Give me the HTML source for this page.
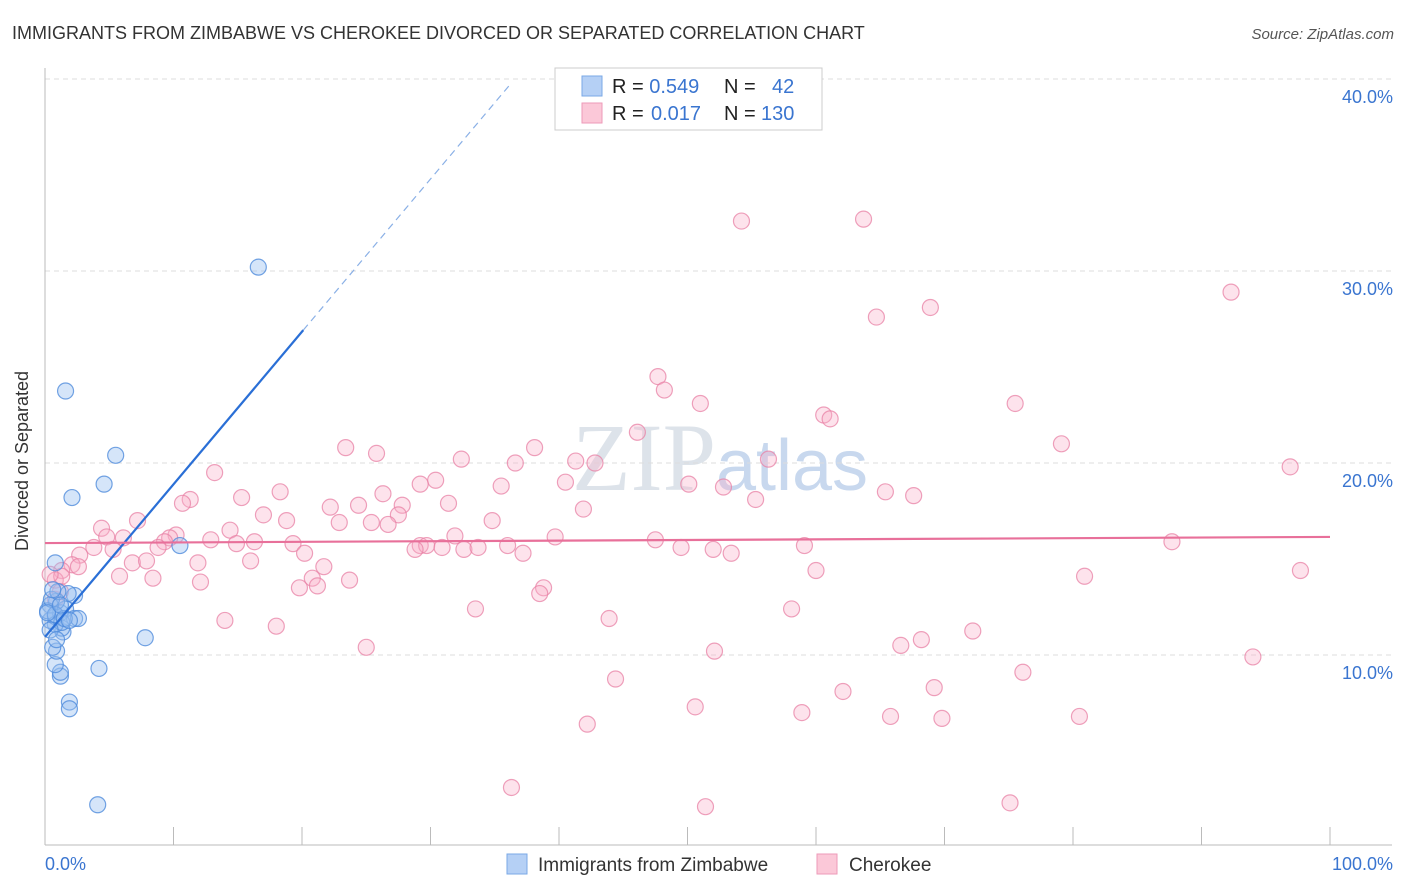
<!DOCTYPE html>
<html><head><meta charset="utf-8"><style>
body{margin:0;background:#fff;font-family:"Liberation Sans",sans-serif}
</style></head><body>
<svg id="c" width="1406" height="892" xmlns="http://www.w3.org/2000/svg" style="display:block">
<text x="12" y="39" font-size="18" fill="#333">IMMIGRANTS FROM ZIMBABWE VS CHEROKEE DIVORCED OR SEPARATED CORRELATION CHART</text>
<text x="1394" y="39" font-size="15" fill="#555" font-style="italic" text-anchor="end">Source: ZipAtlas.com</text>
<text x="720" y="490" font-size="96" fill="#dde3ea" text-anchor="middle" font-family="Liberation Serif,serif">ZIP<tspan fill="#c8d8ee" font-family="Liberation Sans,sans-serif" font-size="72">atlas</tspan></text>
<g id="grid"></g>
<line x1="45" y1="68" x2="45" y2="845" stroke="#bbb"/>
<line x1="45" y1="845" x2="1392" y2="845" stroke="#bbb"/>
<text x="22" y="455" font-size="18" fill="#333" text-anchor="middle" transform="rotate(-90 28 455)">Divorced or Separated</text>
<text x="45" y="870" font-size="18" fill="#3a75d0">0.0%</text>
<text x="1393" y="870" font-size="18" fill="#3a75d0" text-anchor="end">100.0%</text>
<g id="pts"></g>
<g id="lines"></g>
<g>
<rect x="555" y="68" width="267" height="62" fill="#fff" stroke="#ccc"/>
<rect x="582" y="76" width="20" height="20" fill="#b5d0f5" stroke="#7aa8e6"/>
<rect x="582" y="103" width="20" height="20" fill="#fbc8d8" stroke="#ee9ab8"/>
<text x="612" y="93" font-size="20" fill="#222">R = <tspan fill="#3a75d0">0.549</tspan><tspan x="724">N =</tspan><tspan x="772" fill="#3a75d0">42</tspan></text>
<text x="612" y="120" font-size="20" fill="#222">R = <tspan x="651" fill="#3a75d0">0.017</tspan><tspan x="724">N =</tspan><tspan x="761" fill="#3a75d0">130</tspan></text>
</g>
<g>
<rect x="507" y="854" width="20" height="20" fill="#b5d0f5" stroke="#7aa8e6"/>
<text x="538" y="871" font-size="19" fill="#333">Immigrants from Zimbabwe</text>
<rect x="817" y="854" width="20" height="20" fill="#fbc8d8" stroke="#ee9ab8"/>
<text x="849" y="871" font-size="19" fill="#333">Cherokee</text>
</g>
</svg>
<script>
const yTicks=[10,20,30,40];
const xTickVals=[0,10,20,30,40,50,60,70,80,90,100];
const blueX=[16.6,1.6,5.5,2.1,4.6,10.5,0.8,7.8,4.2,4.1,1.9,1.9,1.2,1.2,0.8,0.9,0.6,1.4,1.3,0.8,0.4,0.8,1.2,1.6,2.3,2.6,2.3,1.8,0.9,0.4,0.2,0.5,1.0,1.3,0.8,0.4,0.9,1.5,0.2,0.6,1.2,1.9];
const blueY=[30.2,23.75,20.4,18.2,18.9,15.7,14.8,10.9,9.3,2.2,7.55,7.2,8.9,9.1,9.5,10.2,10.4,11.2,11.4,11.6,11.8,12.0,12.2,12.4,11.9,11.9,13.1,13.2,12.8,12.6,12.3,12.9,13.3,11.7,12.1,11.3,10.8,11.9,12.2,13.4,12.6,11.8];
const pinkX=[54.2,63.7,92.3,64.7,68.9,47.7,48.2,51.0,60.6,61.1,75.5,46.1,79.1,23.4,25.8,38.1,32.4,36.6,41.3,42.8,56.3,96.9,13.2,30.4,29.2,40.5,35.5,50.1,52.8,55.3,65.4,67.6,18.3,26.3,15.3,11.3,10.7,31.4,22.2,24.4,27.8,41.9,17.0,27.5,18.8,34.8,22.9,25.4,26.7,7.2,4.4,14.4,10.2,31.9,39.7,47.5,4.8,6.1,9.7,9.3,12.9,14.9,16.3,19.3,29.2,29.7,28.8,30.9,32.6,33.7,36.0,37.2,49.5,52.0,53.4,59.1,87.7,3.8,2.7,5.3,8.8,20.2,16.0,6.8,7.9,11.9,2.1,2.6,1.3,0.8,5.8,8.4,12.1,20.8,21.2,21.7,23.7,19.8,38.8,38.5,60.0,80.9,97.7,33.5,58.1,14.0,18.0,43.9,72.2,68.2,66.6,25.0,52.1,94.0,76.1,44.4,69.2,62.1,50.6,58.9,65.8,69.8,80.5,42.2,36.3,51.4,75.1,0.8,1.2,1.3,0.4];
const pinkY=[32.6,32.7,28.9,27.6,28.1,24.5,23.8,23.1,22.5,22.3,23.1,21.6,21.0,20.8,20.5,20.8,20.2,20.0,20.1,20.0,20.2,19.8,19.5,19.1,18.9,19.0,18.8,18.9,18.75,18.1,18.5,18.3,18.5,18.4,18.2,18.1,17.9,17.9,17.7,17.8,17.8,17.6,17.3,17.3,17.0,17.0,16.9,16.9,16.8,17.0,16.6,16.5,16.25,16.2,16.15,16.0,16.15,16.1,16.1,15.9,16.0,15.8,15.9,15.8,15.7,15.7,15.5,15.6,15.5,15.6,15.7,15.3,15.6,15.5,15.3,15.7,15.9,15.6,15.2,15.5,15.6,15.3,14.9,14.8,14.9,14.8,14.7,14.6,14.4,13.9,14.1,14.0,13.8,14.0,13.6,14.6,13.9,13.5,13.5,13.2,14.4,14.1,14.4,12.4,12.4,11.8,11.5,11.9,11.25,10.8,10.5,10.4,10.2,9.9,9.1,8.75,8.3,8.1,7.3,7.0,6.8,6.7,6.8,6.4,3.1,2.1,2.3,12.9,13.3,14.1,14.2];
const blueFit=[10.94,0.795];
const pinkFit=[15.83,0.0032];
const NS="http://www.w3.org/2000/svg";
const sx=v=>45+v*12.85, sy=v=>847-v*19.2;
function mk(t,a,p){const e=document.createElementNS(NS,t);for(const k in a)e.setAttribute(k,a[k]);p.appendChild(e);return e;}
const g=document.getElementById('grid');
yTicks.forEach(v=>{
 const l=mk('line',{x1:45,x2:1392,y1:sy(v),y2:sy(v),stroke:'#ddd','stroke-dasharray':'5,4'},g);
 
 
 const t=mk('text',{x:1393,y:sy(v)+24,'font-size':18,fill:'#3a75d0','text-anchor':'end'},g);
 t.textContent=v.toFixed(1)+'%';
 
 
});
xTickVals.forEach(v=>{
 const l=mk('line',{x1:sx(v),x2:sx(v),y1:827,y2:845,stroke:'#bbb'},g);
 
 
});
const p=document.getElementById('pts');
pinkX.forEach((x,i)=>{
 const c=mk('circle',{cx:sx(x),cy:sy(pinkY[i]),r:8,fill:'rgba(248,175,200,0.35)',stroke:'rgba(232,130,165,0.75)','stroke-width':1.2},p);
 
 
});
blueX.forEach((x,i)=>{
 const c=mk('circle',{cx:sx(x),cy:sy(blueY[i]),r:8,fill:'rgba(150,190,240,0.4)',stroke:'rgba(80,140,220,0.8)','stroke-width':1.2},p);
 
 
});
const L=document.getElementById('lines');
const b1=mk('line',{x1:sx(0),y1:sy(blueFit[0]),x2:sx(20.1),y2:sy(blueFit[0]+blueFit[1]*20.1),stroke:'#2a6fd6','stroke-width':2.2},L);


const b2=mk('line',{x1:sx(20.1),y1:sy(blueFit[0]+blueFit[1]*20.1),x2:sx(36.2),y2:sy(blueFit[0]+blueFit[1]*36.2),stroke:'#8ab0e6','stroke-width':1.2,'stroke-dasharray':'7,5'},L);


const pl=mk('line',{x1:sx(0),y1:sy(pinkFit[0]),x2:sx(100),y2:sy(pinkFit[0]+pinkFit[1]*100),stroke:'#e8709a','stroke-width':2.2},L);


</script>
</body></html>
